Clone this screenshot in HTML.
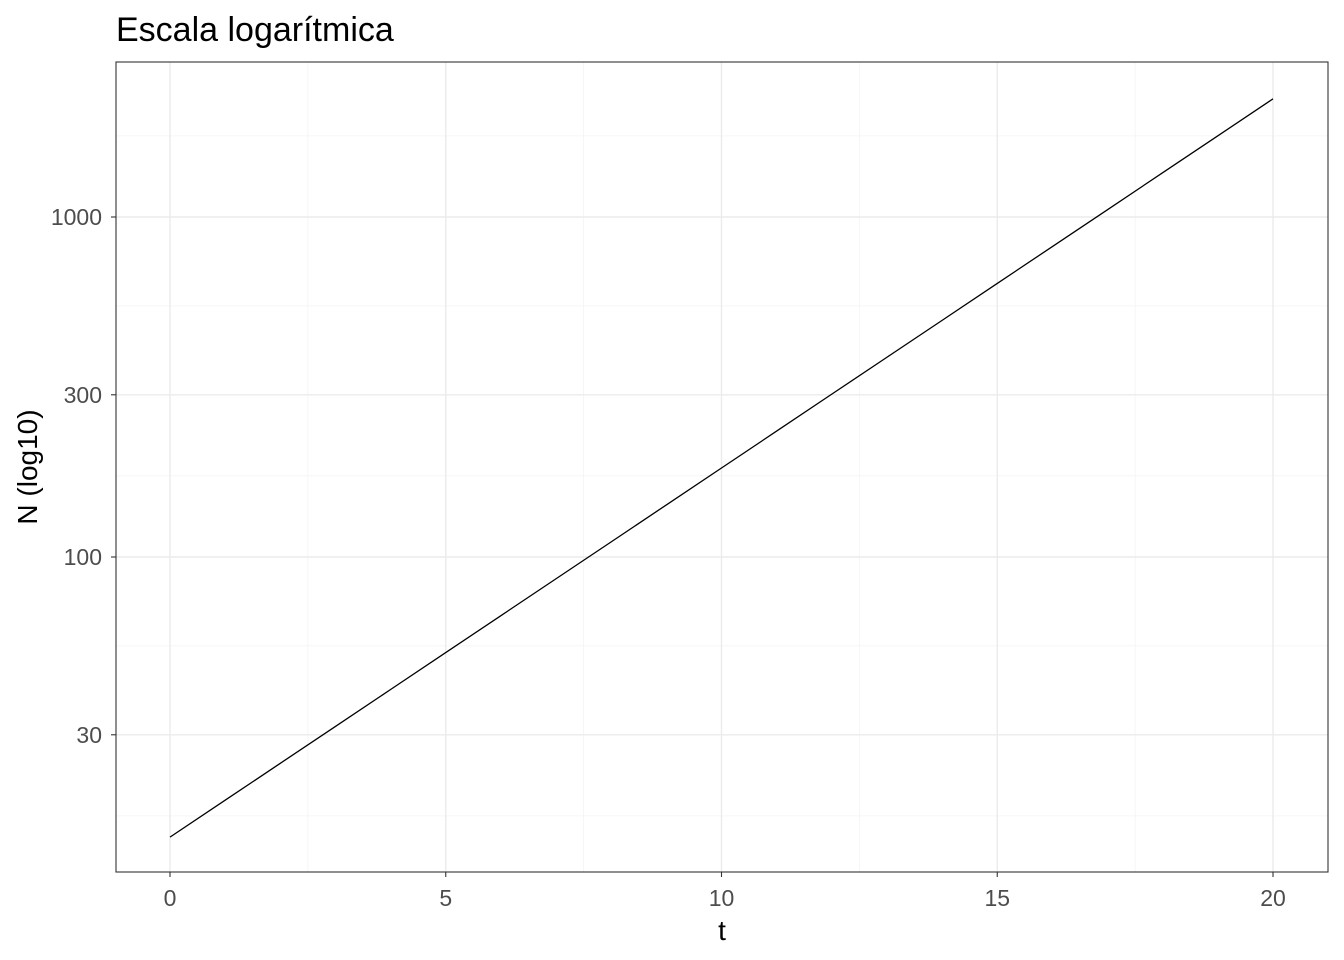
<!DOCTYPE html>
<html><head><meta charset="utf-8">
<style>
html,body{margin:0;padding:0;background:#fff;}
svg{display:block;font-family:"Liberation Sans",Arial,sans-serif;}
</style></head>
<body>
<svg id="chart" width="1344" height="960" viewBox="0 0 1344 960">
<text x="116" y="41" font-size="34" fill="#000">Escala logarítmica</text>
<rect x="116" y="62" width="1212" height="810" fill="#fff"/>
<g id="grid"></g>
<g id="series"></g>
<rect x="116" y="62" width="1212" height="810" fill="none" stroke="#333" stroke-width="1.1"/>
<g id="axes"></g>
<text x="722" y="940" font-size="28" text-anchor="middle" fill="#000">t</text>
<text transform="translate(37,467) rotate(-90)" font-size="28" text-anchor="middle" fill="#000">N (log10)</text>
</svg>
<script>
const tVals = [0,1,2,3,4,5,6,7,8,9,10,11,12,13,14,15,16,17,18,19,20];
const nVals = [15,19.26,24.73,31.75,40.77,52.35,67.22,86.31,110.8,142.3,182.7,234.6,301.3,386.8,496.6,637.6,818.7,1051,1350,1733,2226];
const xTicks = [0,5,10,15,20];
const xMinor = [2.5,7.5,12.5,17.5];
const yTicks = [30,100,300,1000];
const yTickLabels = ["30","100","300","1000"];
const yMinorPairs = [[10,30],[30,100],[100,300],[300,1000],[1000,3000]];

const NS="http://www.w3.org/2000/svg";
const xs = t => 170 + (t-0)*(1273-170)/20;
const ys = v => 557 - (Math.log10(v)-2)*340;
function mk(tag, attrs, parent){const e=document.createElementNS(NS,tag);for(const k in attrs)e.setAttribute(k,attrs[k]);parent.appendChild(e);return e;}
const grid=document.getElementById('grid'), series=document.getElementById('series'), axes=document.getElementById('axes');

xMinor.forEach(t=>{const l=mk('line',{x1:xs(t),x2:xs(t),y1:62,y2:872,stroke:'#f3f3f3','stroke-width':0.8},grid);

});
yMinorPairs.forEach(p=>{const y=(ys(p[0])+ys(p[1]))/2;if(y<62||y>872)return;
const l=mk('line',{x1:116,x2:1328,y1:y,y2:y,stroke:'#f3f3f3','stroke-width':0.8},grid);

});
xTicks.forEach(t=>{const l=mk('line',{x1:xs(t),x2:xs(t),y1:62,y2:872,stroke:'#ebebeb','stroke-width':1.4},grid);


const tk=mk('line',{x1:xs(t),x2:xs(t),y1:872,y2:877,stroke:'#333','stroke-width':1.1},axes);


const tx=mk('text',{x:xs(t),y:906,'font-size':23,'text-anchor':'middle',fill:'#4d4d4d'},axes);tx.textContent=t;

});
yTicks.forEach((v,i)=>{const y=ys(v);const l=mk('line',{x1:116,x2:1328,y1:y,y2:y,stroke:'#ebebeb','stroke-width':1.4},grid);


const tk=mk('line',{x1:111,x2:116,y1:y,y2:y,stroke:'#333','stroke-width':1.1},axes);


const tx=mk('text',{x:102,y:y+8,'font-size':23,'text-anchor':'end',fill:'#4d4d4d'},axes);tx.textContent=yTickLabels[i];

});
const d=tVals.map((t,i)=>(i?'L':'M')+xs(t).toFixed(2)+','+ys(nVals[i]).toFixed(2)).join(' ');
const path=mk('path',{d:d,fill:'none',stroke:'#000','stroke-width':1.3},series);


</script>
</body></html>
